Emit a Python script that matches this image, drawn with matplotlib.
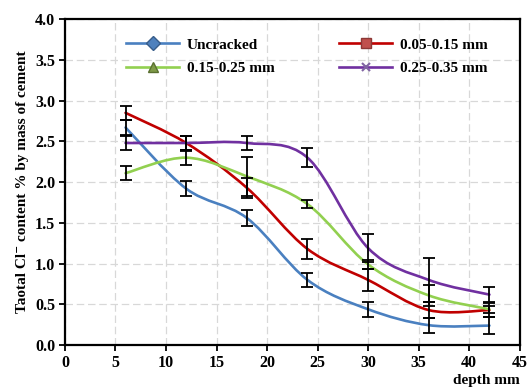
import matplotlib.pyplot as plt
from matplotlib.path import Path
from matplotlib.patches import PathPatch
from matplotlib.lines import Line2D

plt.rcParams['font.family'] = ['Liberation Serif', 'DejaVu Serif']
plt.rcParams['font.weight'] = 'bold'

depth = [6, 12, 18, 24, 30, 36, 42]

uncracked = [2.67, 1.92, 1.56, 0.80, 0.44, 0.245, 0.24]
uncracked_err = [0.095, 0.09, 0.095, 0.09, 0.095, 0.09, 0.105]

crack_05_15 = [2.85, 2.48, 1.93, 1.18, 0.80, 0.43, 0.43]
crack_05_15_err = [0.09, 0.08, 0.12, 0.125, 0.13, 0.10, 0.09]

crack_15_25 = [2.11, 2.30, 2.07, 1.73, 0.99, 0.61, 0.44]
crack_15_25_err = [0.085, 0.085, 0.24, 0.05, 0.06, 0.125, 0.045]

crack_25_35 = [2.48, 2.48, 2.48, 2.30, 1.19, 0.80, 0.62]
crack_25_35_err = [0.085, 0.08, 0.08, 0.12, 0.17, 0.27, 0.09]

labels = ['Uncracked', '0.05-0.15 mm', '0.15-0.25 mm', '0.25-0.35 mm']


def smooth_path(x, y):
    # excel-style smoothed line: bezier segments with catmull-rom control points
    pts = list(zip(x, y))
    verts = [pts[0]]
    codes = [Path.MOVETO]
    n = len(pts)
    for i in range(n - 1):
        p0 = pts[max(i - 1, 0)]
        p1 = pts[i]
        p2 = pts[i + 1]
        p3 = pts[min(i + 2, n - 1)]
        c1 = (p1[0] + (p2[0] - p0[0]) / 6, p1[1] + (p2[1] - p0[1]) / 6)
        c2 = (p2[0] - (p3[0] - p1[0]) / 6, p2[1] - (p3[1] - p1[1]) / 6)
        verts += [c1, c2, p2]
        codes += [Path.CURVE4] * 3
    return Path(verts, codes)


fig = plt.figure(figsize=(5.32, 3.9), dpi=100)
ax = fig.add_axes([0.122, 0.115, 0.855, 0.836])

series = [
    (uncracked, uncracked_err, '#4a80c0', 'D', '#4f81bd', '#385d8a'),
    (crack_05_15, crack_05_15_err, '#c00000', 's', '#c0504d', '#8c3836'),
    (crack_15_25, crack_15_25_err, '#92d050', '^', '#7f9a48', '#5a7030'),
    (crack_25_35, crack_25_35_err, '#7030a0', 'x', '#8064a2', '#8064a2'),
]

handles = []
for (vals, err, col, mk, mfc, mec), lab in zip(series, labels):
    ax.add_patch(PathPatch(smooth_path(depth, vals), fill=False,
                           edgecolor=col, lw=1.9, zorder=2,
                           capstyle='round', joinstyle='round'))
    ax.errorbar(depth, vals, yerr=err, fmt='none', ecolor='black',
                elinewidth=1.3, capsize=4, capthick=1.3, zorder=3)
    handles.append(Line2D([], [], color=col, lw=1.9, marker=mk,
                          markersize=7 if mk != 'x' else 6,
                          markerfacecolor=mfc, markeredgecolor=mec,
                          markeredgewidth=1.0 if mk != 'x' else 1.5))

ax.set_xlim(0, 45)
ax.set_ylim(0, 4.0)
ax.set_xticks(range(0, 46, 5))
ax.set_yticks([i * 0.5 for i in range(9)])
ax.set_yticklabels(['%.1f' % (i * 0.5) for i in range(9)])
ax.tick_params(direction='out', length=4, width=1.3, labelsize=11.5, pad=3)
ax.grid(True, color='#d8d8d8', linestyle=(0, (6, 3)), lw=0.9, zorder=0)
ax.set_axisbelow(True)
for s in ax.spines.values():
    s.set_linewidth(1.6)
    s.set_color('black')

ax.set_ylabel('Taotal Cl\u207b content % by mass of cement', fontsize=11,
              fontweight='bold', labelpad=4)
ax.set_xlabel('depth mm', fontsize=11, fontweight='bold', loc='right',
              labelpad=2)

order = [0, 2, 1, 3]
leg = ax.legend([handles[i] for i in order], [labels[i] for i in order],
                ncol=2, loc='upper left', bbox_to_anchor=(0.134, 0.942),
                frameon=False, fontsize=11, handlelength=3.5,
                handletextpad=0.5, columnspacing=4.2, labelspacing=0.65,
                borderpad=0, borderaxespad=0)

fig.savefig('out.png', dpi=100)
